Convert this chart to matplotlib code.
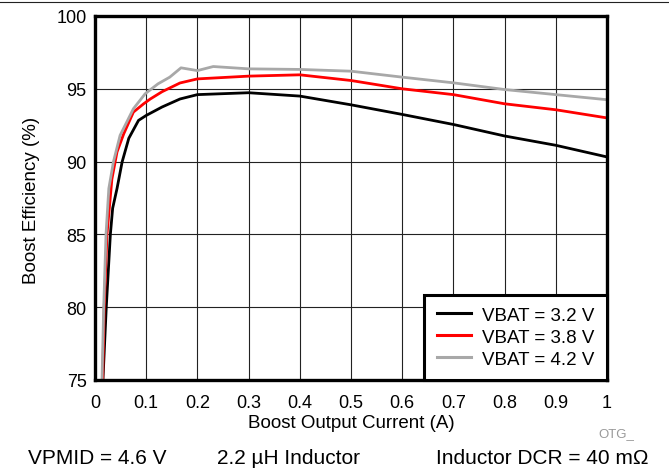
import matplotlib
matplotlib.use("Agg")
import matplotlib.pyplot as plt
from matplotlib.lines import Line2D

plt.rcParams['font.family'] = ['Liberation Sans', 'DejaVu Sans']

# Data
x_32 = [0.0155, 0.022, 0.030, 0.0345, 0.043, 0.053, 0.066, 0.085, 0.1, 0.131, 0.166, 0.2, 0.3, 0.4, 0.5, 0.6, 0.7, 0.8, 0.9, 1.0]
y_32 = [75, 80, 85, 86.8, 88.15, 89.98, 91.6, 92.83, 93.17, 93.75, 94.3, 94.6, 94.73, 94.5, 93.9, 93.24, 92.55, 91.76, 91.12, 90.32]

x_38 = [0.015, 0.018, 0.0234, 0.033, 0.043, 0.056, 0.075, 0.095, 0.108, 0.131, 0.166, 0.2, 0.3, 0.4, 0.5, 0.6, 0.7, 0.8, 0.9, 1.0]
y_38 = [75, 80, 85, 88.8, 90.66, 91.9, 93.4, 93.97, 94.3, 94.8, 95.4, 95.68, 95.87, 95.96, 95.57, 95.0, 94.6, 93.97, 93.56, 93.0]

x_42 = [0.0137, 0.017, 0.0215, 0.027, 0.036, 0.049, 0.075, 0.098, 0.123, 0.146, 0.168, 0.2, 0.231, 0.3, 0.4, 0.5, 0.6, 0.7, 0.8, 0.9, 1.0]
y_42 = [75, 80, 85, 88.15, 89.98, 91.8, 93.63, 94.66, 95.34, 95.8, 96.44, 96.25, 96.53, 96.37, 96.33, 96.21, 95.8, 95.41, 94.95, 94.6, 94.25]

series_labels = ["VBAT = 3.2 V", "VBAT = 3.8 V", "VBAT = 4.2 V"]
x_ticks = [0, 0.1, 0.2, 0.3, 0.4, 0.5, 0.6, 0.7, 0.8, 0.9, 1]
x_ticklabels = ["0", "0.1", "0.2", "0.3", "0.4", "0.5", "0.6", "0.7", "0.8", "0.9", "1"]
y_ticks = [75, 80, 85, 90, 95, 100]

W, H = 669, 477
fig = plt.figure(figsize=(W/100, H/100), dpi=100)
ax = fig.add_axes([95/W, 1-381/H, (607-95)/W, (381-17)/H])

ax.plot(x_32, y_32, color='black', lw=2.0, label=series_labels[0], zorder=3)
ax.plot(x_38, y_38, color='#ff0000', lw=2.0, label=series_labels[1], zorder=3)
ax.plot(x_42, y_42, color='#a8a8a8', lw=2.0, label=series_labels[2], zorder=3)

ax.set_xlim(0, 1)
ax.set_ylim(75, 100)
ax.set_xticks(x_ticks)
ax.set_xticklabels(x_ticklabels)
ax.set_yticks(y_ticks)
ax.grid(True, color='#222222', lw=0.8, zorder=1)
ax.set_axisbelow(True)
ax.tick_params(length=0, labelsize=13)
ax.tick_params(axis='x', pad=10)
ax.tick_params(axis='y', pad=6)
for s in ax.spines.values():
    s.set_linewidth(2.4)
    s.set_color('black')
    s.set_zorder(5)

fig.text(351/W, 1-424/H, "Boost Output Current (A)", fontsize=13.5, ha='center', va='center')
fig.text(32/W, 1-200/H, "Boost Efficiency (%)", fontsize=13.5, ha='center', va='center', rotation=90)

leg = ax.legend(loc='lower right', fontsize=13.5, frameon=True, fancybox=False,
                borderaxespad=0, handlelength=1.85, labelspacing=0.26,
                borderpad=0.65, handletextpad=0.6)
leg.get_frame().set_edgecolor('black')
leg.get_frame().set_linewidth(2.2)
leg.get_frame().set_alpha(1)
leg.set_zorder(6)
for l in leg.get_lines():
    l.set_linewidth(2.2)

fig.text(598/W, 1-434/H, "OTG_", color='#999999', fontsize=9.5, va='center')
fig.text(28/W, 1-459/H, "VPMID = 4.6 V", fontsize=15, va='center')
fig.text(217/W, 1-459/H, "2.2 µH Inductor", fontsize=15, va='center')
fig.text(648/W, 1-459/H, "Inductor DCR = 40 mΩ", fontsize=15, va='center', ha='right')

fig.add_artist(Line2D([0, 1], [1-3/H, 1-3/H], color='#222222', lw=0.8, transform=fig.transFigure))

fig.savefig("out.png", dpi=100)
